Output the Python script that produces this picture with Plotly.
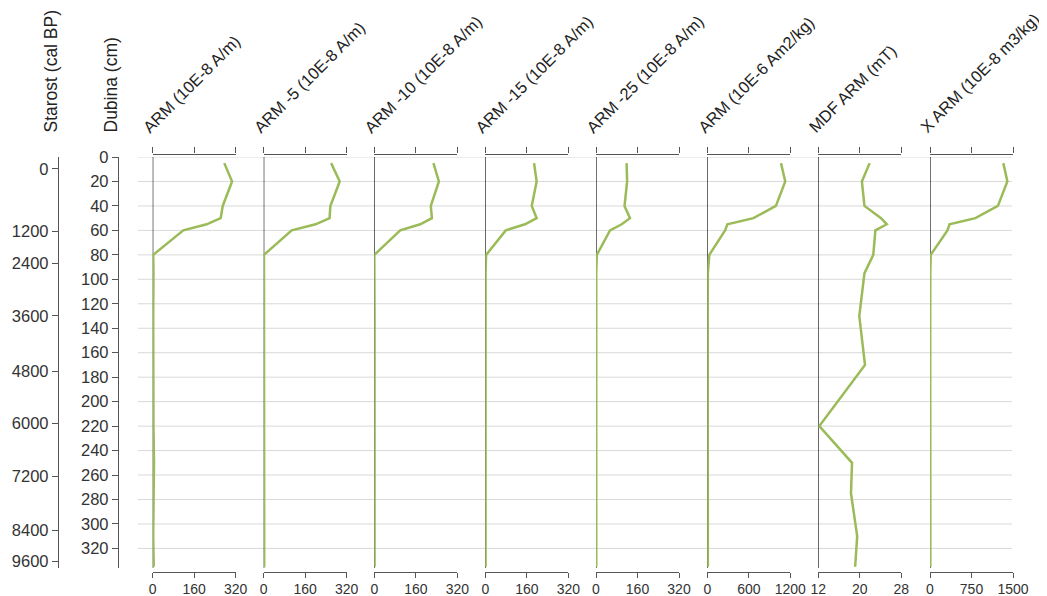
import plotly.graph_objects as go

W, H = 1047, 596
OFF = 8  # page body margin in the browser

# ---------------- data ----------------
depth = [5, 20, 40, 50, 55, 60, 80, 95, 130, 170, 220, 250, 275, 310, 335]

arm = [276, 306, 270, 262, 208, 118, 2, 3, 2, 2, 3, 5, 3, 2, 4]
arm5 = [260, 293, 257, 254, 200, 108, 1, 1, 1, 1, 1, 2, 1, 1, 2]
arm10 = [228, 249, 218, 222, 177, 100, 0, 1, 1, 1, 1, 1, 1, 1, 1]
arm15 = [188, 198, 179, 198, 153, 79, 3, 1, 1, 1, 1, 1, 1, 1, 1]
arm25 = [118, 120, 110, 131, 99, 54, 3, 1, 1, 1, 1, 1, 1, 1, 1]
arm_mass = [1065, 1127, 992, 667, 290, 257, 29, 8, 6, 6, 6, 8, 6, 6, 8]
mdf_arm = [21.9, 20.4, 20.9, 24.1, 25.2, 23.0, 22.6, 20.9, 19.9, 21.0, 12.2, 18.5, 18.3, 19.5, 19.1]
chi_arm = [1325, 1398, 1227, 820, 352, 315, 13, 5, 4, 4, 4, 6, 4, 4, 6]

titles = ["ARM (10E-8 A/m)", "ARM -5 (10E-8 A/m)", "ARM -10 (10E-8 A/m)",
          "ARM -15 (10E-8 A/m)", "ARM -25 (10E-8 A/m)", "ARM (10E-6 Am2/kg)",
          "MDF ARM (mT)", "X ARM (10E-8 m3/kg)"]
series = [arm, arm5, arm10, arm15, arm25, arm_mass, mdf_arm, chi_arm]
ranges = [[0, 320], [0, 320], [0, 320], [0, 320], [0, 320], [0, 1200], [12, 28], [0, 1500]]
tickvals = [[0, 160, 320]] * 5 + [[0, 600, 1200], [12, 20, 28], [0, 750, 1500]]

depth_ticks = list(range(0, 321, 20))
age_labels = ["0", "1200", "2400", "3600", "4800", "6000", "7200", "8400", "9600"]
age_depth_pos = [9.8, 60.5, 86.9, 129.8, 175, 217.7, 260.8, 305, 330.3]

# ---------------- layout helpers ----------------
def px(x):
    return (x - OFF) / W

def py(y):
    return 1 - (y - OFF) / H

panel_left = [152.7, 263.7, 374.3, 485.3, 596.0, 707.3, 818.3, 930.0]
panel_w = 83.0
y_top, y_bot = 157, 568
depth_max = 336

GREEN = "#9bbb59"
AX = "#555555"
TXT = "#222222"
FONT = "Arial, Liberation Sans, sans-serif"

fig = go.Figure()
layout = dict(
    width=W, height=H,
    margin=dict(l=0, r=0, t=0, b=0, pad=0, autoexpand=False),
    paper_bgcolor="white", plot_bgcolor="rgba(0,0,0,0)",
    showlegend=False,
    font=dict(family=FONT, color=TXT),
)

shapes = []
annotations = []

# gridlines across all panels
for d in depth_ticks:
    shapes.append(dict(type="line", xref="paper", yref="y", x0=px(138), x1=px(1012),
                       y0=d, y1=d, line=dict(color="#d9d9d9", width=1), layer="below"))

for i, (vals, rng, tv, title) in enumerate(zip(series, ranges, tickvals, titles)):
    nb = i + 1
    nt = i + 9
    dom = [px(panel_left[i]), px(panel_left[i] + panel_w)]
    xb = "x" if nb == 1 else f"x{nb}"
    xt = f"x{nt}"
    layout["xaxis" if nb == 1 else f"xaxis{nb}"] = dict(
        domain=dom, range=rng, tickvals=tv, anchor="free", position=py(571.5),
        showline=True, linecolor=AX, linewidth=1.3, ticks="outside", ticklen=5,
        tickcolor=AX, tickwidth=1.3, showgrid=False, zeroline=False, automargin=False,
        tickfont=dict(size=14, color="#333333", family=FONT), fixedrange=True,
    )
    layout[f"xaxis{nt}"] = dict(
        domain=dom, range=rng, tickvals=tv, anchor="free", position=py(153.5),
        overlaying=xb, side="top", showticklabels=False, automargin=False,
        showline=True, linecolor=AX, linewidth=1.3, ticks="outside", ticklen=6,
        tickcolor=AX, tickwidth=1.3, showgrid=False, zeroline=False,
    )
    # vertical baseline of each panel
    shapes.append(dict(type="line", xref=xb, yref="y", x0=rng[0], x1=rng[0],
                       y0=0, y1=depth_max, line=dict(color="#111111", width=1.2), layer="below"))
    fig.add_trace(go.Scatter(x=vals, y=depth, xaxis=xb, yaxis="y", mode="lines",
                             line=dict(color=GREEN, width=2.5), cliponaxis=False,
                             hoverinfo="skip"))
    fig.add_trace(go.Scatter(x=vals, y=depth, xaxis=xt, yaxis="y", mode="lines",
                             line=dict(color="rgba(0,0,0,0)", width=0), hoverinfo="skip"))
    annotations.append(dict(text=title, textangle=-45, xref="paper", yref="paper",
                            x=px(panel_left[i] - 16), y=py(139), xanchor="left",
                            yanchor="bottom", showarrow=False,
                            font=dict(size=16.5, color=TXT, family=FONT)))

layout["yaxis"] = dict(
    domain=[py(y_bot), py(y_top)], range=[depth_max, 0], anchor="free", position=px(118),
    side="left", tickvals=depth_ticks, showline=True, linecolor=AX, linewidth=1.3,
    ticks="outside", ticklen=6, tickcolor=AX, tickwidth=1.3, showgrid=False,
    zeroline=False, automargin=False,
    tickfont=dict(size=16.5, color="#333333", family=FONT),
)
layout["yaxis2"] = dict(
    domain=[py(y_bot), py(y_top)], range=[depth_max, 0], anchor="free", position=px(58),
    overlaying="y", side="left", tickvals=age_depth_pos, ticktext=age_labels,
    showline=True, linecolor=AX, linewidth=1.3, ticks="outside", ticklen=6,
    tickcolor=AX, tickwidth=1.3, showgrid=False, zeroline=False, automargin=False,
    tickfont=dict(size=16.5, color="#333333", family=FONT),
)
# invisible trace so the age axis is rendered
fig.add_trace(go.Scatter(x=[0, 0], y=[0, depth_max], xaxis="x", yaxis="y2", mode="lines",
                         line=dict(color="rgba(0,0,0,0)", width=0), hoverinfo="skip"))

annotations.append(dict(text="Starost (cal BP)", textangle=-90, xref="paper", yref="paper",
                        x=px(51), y=py(134), xanchor="center", yanchor="bottom",
                        showarrow=False, font=dict(size=17.5, color=TXT, family=FONT)))
annotations.append(dict(text="Dubina (cm)", textangle=-90, xref="paper", yref="paper",
                        x=px(111), y=py(134), xanchor="center", yanchor="bottom",
                        showarrow=False, font=dict(size=17.5, color=TXT, family=FONT)))

layout["shapes"] = shapes
layout["annotations"] = annotations
fig.update_layout(**layout)
fig.write_html("out.html")
